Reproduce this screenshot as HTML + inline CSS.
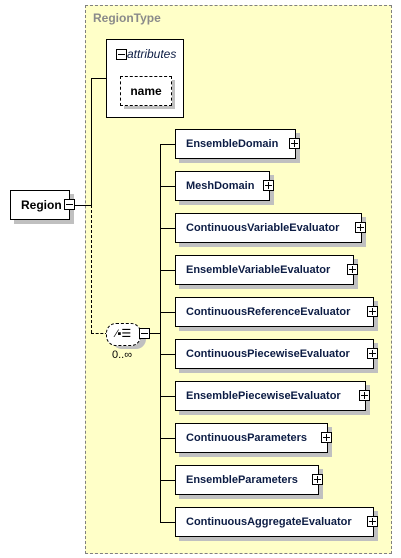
<!DOCTYPE html>
<html><head><style>
body{margin:0;width:401px;height:558px;background:#fff;position:relative;font-family:"Liberation Sans",Arial,sans-serif;overflow:hidden}
.a{position:absolute}
.box{position:absolute;border:1px solid #000;background:#fff;box-shadow:4px 4px 0 #c0c0c0;font-weight:bold;font-size:11px;color:#0c1c44;line-height:29px;padding-left:10px;box-sizing:border-box;height:30px}
.pl{position:absolute;width:11px;height:11px;border:1px solid #000;background:#fff;box-sizing:border-box}
.pl:before{content:"";position:absolute;left:1px;right:1px;top:4px;height:1px;background:#000}
.pl.p:after{content:"";position:absolute;top:1px;bottom:1px;left:4px;width:1px;background:#000}
.h{position:absolute;height:1px;background:#000}
.v{position:absolute;width:1px;background:#000}
</style></head><body>
<div class="a" style="left:85px;top:5px;width:305px;height:547px;background:#ffffc8;border:1px dashed #808080"></div>
<div class="a" style="left:93px;top:11px;font-size:12px;font-weight:bold;color:#8a8a8a">RegionType</div>
<div class="a" style="left:106px;top:39px;width:76px;height:77px;border:1px solid #000;background:#fff"></div>
<div class="pl" style="left:116px;top:49px"></div>
<div class="a" style="left:127px;top:47px;font-size:12px;font-style:italic;color:#0c1c44">attributes</div>
<div class="a" style="left:124px;top:80px;width:51px;height:29px;background:#c0c0c0"></div>
<div class="a" style="left:120px;top:76px;width:50px;height:28px;border:1px dashed #000;background:#fff;font-size:12px;font-weight:bold;text-align:center;line-height:28px;color:#000">name</div>

<div class="box" style="left:10px;top:190px;width:60px;color:#000;font-size:12px">Region</div>
<div class="pl" style="left:64px;top:199px"></div>
<div class="h" style="left:75px;top:205px;width:16px"></div>
<div class="v" style="left:91px;top:78px;height:127px"></div>
<div class="h" style="left:91px;top:78px;width:15px"></div>
<div class="a" style="left:91px;top:205px;height:128px;border-left:1px dashed #000"></div>
<div class="a" style="left:91px;top:333px;width:17px;border-top:1px dashed #000"></div>

<div class="a" style="left:112px;top:327px;width:34px;height:22px;border-radius:10px;background:#c0c0c0"></div>
<div class="a" style="left:106px;top:323px;width:33px;height:21px;border-radius:10px;border:1px dashed #000;background:#fff;font-size:11px;line-height:21px;text-align:center">⁄▪☰</div>
<div class="pl" style="left:139px;top:328px"></div>
<div class="a" style="left:112px;top:349px;font-size:11px;color:#000">0..∞</div>
<div class="h" style="left:150px;top:333px;width:10px"></div>
<div class="v" style="left:160px;top:144px;height:379px"></div>

<div class="box" style="left:175px;top:129px;width:121px">EnsembleDomain</div>
<div class="box" style="left:175px;top:171px;width:95px">MeshDomain</div>
<div class="box" style="left:175px;top:213px;width:187px">ContinuousVariableEvaluator</div>
<div class="box" style="left:175px;top:255px;width:179px">EnsembleVariableEvaluator</div>
<div class="box" style="left:175px;top:297px;width:199px">ContinuousReferenceEvaluator</div>
<div class="box" style="left:175px;top:339px;width:199px">ContinuousPiecewiseEvaluator</div>
<div class="box" style="left:175px;top:381px;width:191px">EnsemblePiecewiseEvaluator</div>
<div class="box" style="left:175px;top:423px;width:153px">ContinuousParameters</div>
<div class="box" style="left:175px;top:465px;width:144px">EnsembleParameters</div>
<div class="box" style="left:175px;top:507px;width:199px">ContinuousAggregateEvaluator</div>

<div class="pl p" style="left:289px;top:138px"></div>
<div class="pl p" style="left:263px;top:180px"></div>
<div class="pl p" style="left:355px;top:222px"></div>
<div class="pl p" style="left:347px;top:264px"></div>
<div class="pl p" style="left:367px;top:306px"></div>
<div class="pl p" style="left:367px;top:348px"></div>
<div class="pl p" style="left:359px;top:390px"></div>
<div class="pl p" style="left:321px;top:432px"></div>
<div class="pl p" style="left:312px;top:474px"></div>
<div class="pl p" style="left:367px;top:516px"></div>

<div class="h" style="left:160px;top:144px;width:15px"></div>
<div class="h" style="left:160px;top:186px;width:15px"></div>
<div class="h" style="left:160px;top:228px;width:15px"></div>
<div class="h" style="left:160px;top:270px;width:15px"></div>
<div class="h" style="left:160px;top:312px;width:15px"></div>
<div class="h" style="left:160px;top:354px;width:15px"></div>
<div class="h" style="left:160px;top:396px;width:15px"></div>
<div class="h" style="left:160px;top:438px;width:15px"></div>
<div class="h" style="left:160px;top:480px;width:15px"></div>
<div class="h" style="left:160px;top:522px;width:15px"></div>
</body></html>
